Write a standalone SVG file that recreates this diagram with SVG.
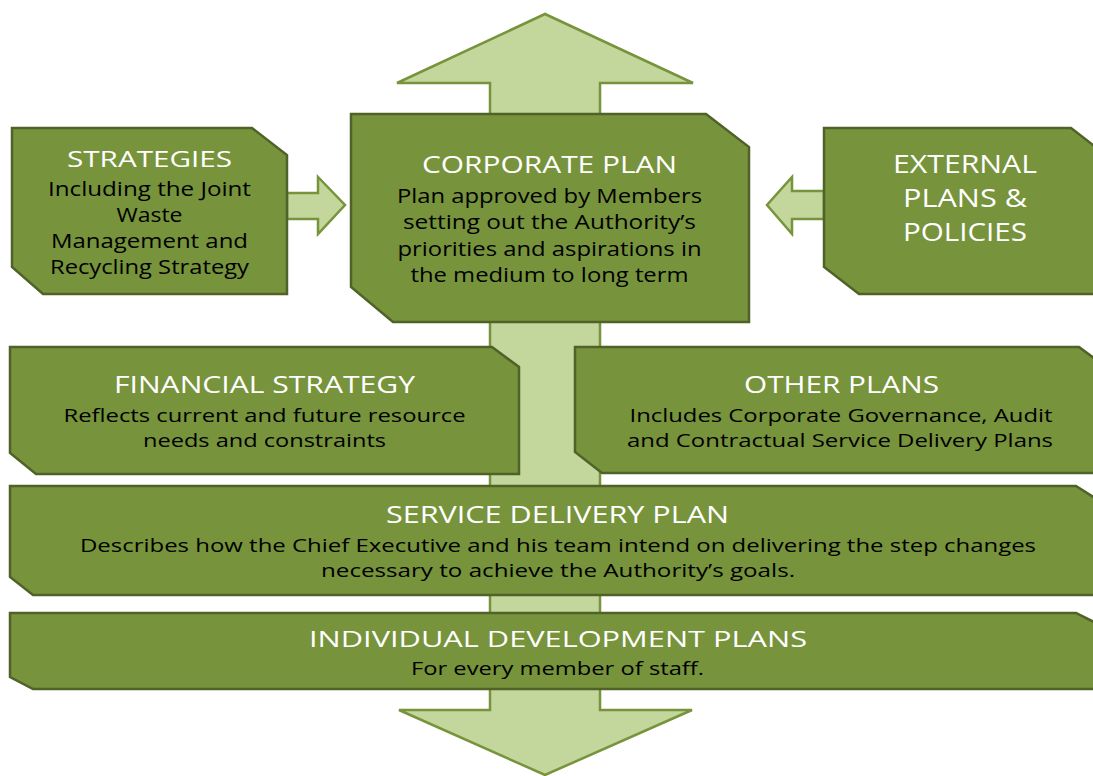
<svg xmlns="http://www.w3.org/2000/svg" width="1093" height="776" viewBox="0 0 1093 776">
<style>
.box{fill:#77933C;stroke:#4F6228;stroke-width:2.5;stroke-linejoin:miter}
.arr{fill:#C3D69B;stroke:#77933C;stroke-width:2.5}
.t{font-family:"Open Sans","Liberation Sans",sans-serif;fill:#FFFFFF;text-anchor:middle}
.b{font-family:"Open Sans","Liberation Sans",sans-serif;fill:#000000;text-anchor:middle}
</style>
<rect width="1093" height="776" fill="#FFFFFF"/>
<g id="connectors">
<polygon class="arr" points="545,14 693,83 600,83 600,710 692,710 545,775 399,710 490,710 490,83 397,83"/>
<polygon class="arr" points="287,193 318,193 318,177 345,205 318,234 318,219 287,219"/>
<polygon class="arr" points="824,191 792,191 792,177 767,205 792,234 792,219 824,219"/>
</g>
<g id="strategies">
<path class="box" d="M12,128 L252,128 L287,155 L287,294 L43,294 L12,267 Z"/>
<text class="t" x="149.5" y="167" font-size="21" textLength="165" lengthAdjust="spacingAndGlyphs">STRATEGIES</text>
<text class="b" x="149.5" y="196" font-size="19.5" textLength="203" lengthAdjust="spacingAndGlyphs">Including the Joint</text>
<text class="b" x="149.5" y="222" font-size="19.5" textLength="66" lengthAdjust="spacingAndGlyphs">Waste</text>
<text class="b" x="149.5" y="248" font-size="19.5" textLength="197" lengthAdjust="spacingAndGlyphs">Management and</text>
<text class="b" x="149.5" y="274" font-size="19.5" textLength="199" lengthAdjust="spacingAndGlyphs">Recycling Strategy</text>
</g>
<g id="corporate-plan">
<path class="box" d="M351,114 L706,114 L749,147 L749,322 L393,322 L351,287 Z"/>
<text class="t" x="549.5" y="173" font-size="23" textLength="255" lengthAdjust="spacingAndGlyphs">CORPORATE PLAN</text>
<text class="b" x="549.5" y="203" font-size="20" textLength="305" lengthAdjust="spacingAndGlyphs">Plan approved by Members</text>
<text class="b" x="549.5" y="229" font-size="20" textLength="293" lengthAdjust="spacingAndGlyphs">setting out the Authority’s</text>
<text class="b" x="549.5" y="256" font-size="20" textLength="304" lengthAdjust="spacingAndGlyphs">priorities and aspirations in</text>
<text class="b" x="549.5" y="282" font-size="20" textLength="278" lengthAdjust="spacingAndGlyphs">the medium to long term</text>
</g>
<g id="external">
<path class="box" d="M824,128 L1071,128 L1106,155 L1106,294 L859,294 L824,267 Z"/>
<text class="t" x="965" y="173" font-size="25" textLength="144" lengthAdjust="spacingAndGlyphs">EXTERNAL</text>
<text class="t" x="965" y="207" font-size="25" textLength="124" lengthAdjust="spacingAndGlyphs">PLANS &amp;</text>
<text class="t" x="965" y="241" font-size="25" textLength="124" lengthAdjust="spacingAndGlyphs">POLICIES</text>
</g>
<g id="financial-strategy">
<path class="box" d="M10,347 L492,347 L519,367 L519,474 L36,474 L10,453 Z"/>
<text class="t" x="264.5" y="393" font-size="24" textLength="301" lengthAdjust="spacingAndGlyphs">FINANCIAL STRATEGY</text>
<text class="b" x="264.5" y="422" font-size="19" textLength="402" lengthAdjust="spacingAndGlyphs">Reflects current and future resource</text>
<text class="b" x="264.5" y="447" font-size="19" textLength="243" lengthAdjust="spacingAndGlyphs">needs and constraints</text>
</g>
<g id="other-plans">
<path class="box" d="M575,347 L1079,347 L1106,367 L1106,473 L602,473 L575,452 Z"/>
<text class="t" x="841.5" y="393" font-size="24" textLength="195" lengthAdjust="spacingAndGlyphs">OTHER PLANS</text>
<text class="b" x="841" y="422" font-size="19" textLength="423" lengthAdjust="spacingAndGlyphs">Includes Corporate Governance, Audit</text>
<text class="b" x="840" y="447" font-size="19" textLength="426" lengthAdjust="spacingAndGlyphs">and Contractual Service Delivery Plans</text>
</g>
<g id="service-delivery-plan">
<path class="box" d="M10,486 L1076,486 L1106,505 L1106,595 L33,595 L10,577 Z"/>
<text class="t" x="557.5" y="523" font-size="23" textLength="343" lengthAdjust="spacingAndGlyphs">SERVICE DELIVERY PLAN</text>
<text class="b" x="558" y="552" font-size="19" textLength="956" lengthAdjust="spacingAndGlyphs">Describes how the Chief Executive and his team intend on delivering the step changes</text>
<text class="b" x="558" y="577" font-size="19" textLength="474" lengthAdjust="spacingAndGlyphs">necessary to achieve the Authority’s goals.</text>
</g>
<g id="individual-development-plans">
<path class="box" d="M10,613 L1076,613 L1106,628 L1106,689 L33,689 L10,677 Z"/>
<text class="t" x="558" y="647" font-size="22.5" textLength="498" lengthAdjust="spacingAndGlyphs">INDIVIDUAL DEVELOPMENT PLANS</text>
<text class="b" x="557.5" y="675" font-size="19" textLength="293" lengthAdjust="spacingAndGlyphs">For every member of staff.</text>
</g>
</svg>
